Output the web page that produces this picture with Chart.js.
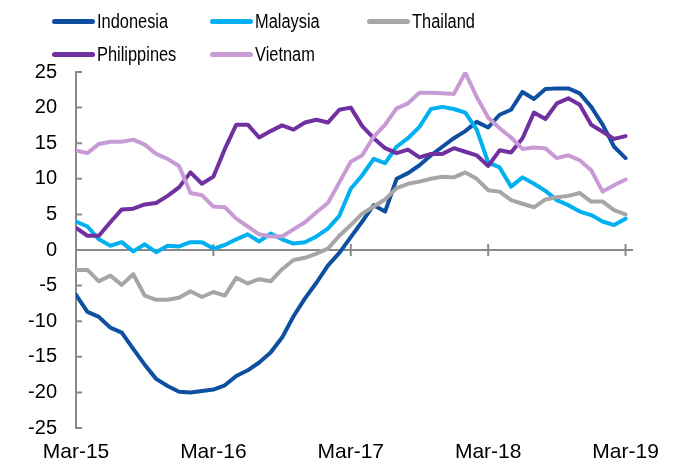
<!DOCTYPE html>
<html>
<head>
<meta charset="utf-8">
<script src="https://cdn.jsdelivr.net/npm/chart.js@4"></script>
<style>
  body { margin: 0; background: #fff; }
  #wrap { position: relative; width: 675px; height: 468px; }
  .item {
    position: absolute; height: 24px; display: flex; align-items: center;
    font: 20px "Liberation Sans", Arial, sans-serif;
    line-height: 24px; color: #000; white-space: nowrap;
  }
  .item .swatch { display: inline-block; width: 43px; height: 5px; border-radius: 3px; margin-right: 2px; }
  /* the original legend uses a narrow face */
  .item .nome { display: inline-block; transform: scaleX(0.82); transform-origin: left center; }
</style>
</head>
<body>
<div id="wrap">
  <canvas id="grafico" width="675" height="468"></canvas>
  <div id="legenda"></div>
</div>
<script>
const series = ['Indonesia', 'Malaysia', 'Thailand', 'Philippines', 'Vietnam'];
const colors = ['#0f4fa0', '#00b0f0', '#a6a6a6', '#7030a0', '#c89bd5'];

// month index from Mar-15, labelled once a year
const tickMonths = [0, 12, 24, 36, 48];
const tickLabels = ['Mar-15', 'Mar-16', 'Mar-17', 'Mar-18', 'Mar-19'];

const indonesia = [-6.3, -8.7, -9.4, -10.9, -11.6, -13.9, -16.1, -18.1, -19.1, -19.9, -20.0, -19.8, -19.6,
  -19.0, -17.7, -16.9, -15.8, -14.4, -12.3, -9.3, -6.8, -4.6, -2.2, -0.4,
  1.8, 4.0, 6.3, 5.4, 10.0, 10.8, 11.9, 13.3, 14.5, 15.7, 16.7, 18.0,
  17.2, 19.0, 19.7, 22.2, 21.2, 22.6, 22.7, 22.7, 22.0, 20.1, 17.6, 14.5, 12.9];
const malaysia = [4.0, 3.3, 1.5, 0.6, 1.1, -0.2, 0.8, -0.3, 0.6, 0.5, 1.1, 1.1, 0.2,
  0.7, 1.5, 2.2, 1.2, 2.3, 1.5, 0.9, 1.1, 1.9, 3.0, 4.8,
  8.6, 10.5, 12.8, 12.2, 14.5, 15.7, 17.3, 19.8, 20.1, 19.8, 19.3, 16.9,
  12.3, 11.6, 8.9, 10.2, 9.3, 8.3, 7.0, 6.3, 5.4, 4.9, 4.0, 3.5, 4.4];
const thailand = [-2.8, -2.8, -4.4, -3.6, -4.9, -3.4, -6.4, -7.0, -7.0, -6.7, -5.8, -6.6, -5.9,
  -6.4, -3.9, -4.7, -4.1, -4.4, -2.7, -1.4, -1.1, -0.5, 0.2, 2.0,
  3.5, 5.1, 6.1, 7.1, 8.7, 9.3, 9.6, 10.0, 10.3, 10.2, 10.9, 10.0,
  8.4, 8.2, 7.0, 6.5, 6.0, 7.1, 7.4, 7.6, 8.0, 6.8, 6.8, 5.6, 5.0];
const philippines = [3.1, 2.0, 2.0, 3.9, 5.7, 5.8, 6.4, 6.6, 7.6, 8.8, 10.9, 9.3, 10.3,
  14.2, 17.6, 17.6, 15.8, 16.7, 17.5, 16.9, 17.9, 18.3, 17.9, 19.7,
  20.0, 17.4, 15.7, 14.3, 13.6, 14.1, 13.0, 13.5, 13.5, 14.3, 13.8, 13.3,
  11.8, 14.0, 13.7, 15.7, 19.3, 18.4, 20.6, 21.3, 20.4, 17.6, 16.6, 15.6, 16.0];
const vietnam = [14.0, 13.6, 14.9, 15.2, 15.2, 15.5, 14.8, 13.5, 12.8, 11.8, 8.0, 7.7, 6.1,
  6.0, 4.4, 3.3, 2.2, 1.9, 1.9, 2.9, 3.9, 5.3, 6.6, 9.5,
  12.4, 13.3, 15.9, 17.6, 19.9, 20.6, 22.1, 22.1, 22.0, 21.9, 24.9, 21.5,
  18.6, 17.1, 15.8, 14.2, 14.4, 14.3, 12.9, 13.3, 12.6, 11.2, 8.2, 9.1, 9.9];

const valores = [indonesia, malaysia, thailand, philippines, vietnam];

// legend laid out in a grid like the original
const legendaPos = [[52, 9], [210, 9], [367, 9], [52, 42], [210, 42]];
const legenda = document.getElementById('legenda');
series.forEach((nome, i) => {
  const item = document.createElement('div');
  item.className = 'item';
  item.style.left = legendaPos[i][0] + 'px';
  item.style.top = legendaPos[i][1] + 'px';
  item.innerHTML = `<span class="swatch" style="background:${colors[i]}"></span><span class="nome">${nome}</span>`;
  legenda.appendChild(item);
});

const eixos = {
  id: 'eixos',
  beforeDatasetsDraw(chart) {
    const { ctx, chartArea, scales: { x, y } } = chart;
    const y0 = y.getPixelForValue(0);
    ctx.save();
    ctx.strokeStyle = '#898989';
    ctx.lineWidth = 2;
    ctx.beginPath();
    ctx.moveTo(chartArea.left, y.getPixelForValue(25) - 1);
    ctx.lineTo(chartArea.left, y.getPixelForValue(-25) + 1);
    y.ticks.forEach(t => {
      const py = y.getPixelForValue(t.value);
      ctx.moveTo(chartArea.left, py);
      ctx.lineTo(chartArea.left + 6, py);
    });
    ctx.moveTo(chartArea.left, y0);
    ctx.lineTo(chartArea.right, y0);
    x.ticks.forEach(t => {
      if (t.value === 0) return;
      const px = x.getPixelForValue(t.value);
      ctx.moveTo(px, y0 - 6);
      ctx.lineTo(px, y0 + 6);
    });
    ctx.stroke();
    ctx.restore();
  }
};

const fonte = { family: '"Liberation Sans", Arial, sans-serif', size: 20 };

new Chart(document.getElementById('grafico'), {
  type: 'line',
  data: {
    datasets: series.map((nome, i) => ({
      label: nome,
      data: valores[i].map((v, m) => ({ x: m, y: v })),
      borderColor: colors[i],
      backgroundColor: colors[i],
      borderWidth: 4,
      pointRadius: 0,
      tension: 0,
      borderJoinStyle: 'round',
      borderCapStyle: 'round',
      order: series.length - i
    }))
  },
  options: {
    responsive: false,
    animation: false,
    devicePixelRatio: 1,
    layout: { padding: { top: 72, right: 42, left: 0, bottom: 0 } },
    plugins: { legend: { display: false }, tooltip: { enabled: false } },
    scales: {
      x: {
        type: 'linear',
        min: 0,
        max: 48.65,
        grid: { display: false, drawTicks: false },
        border: { display: false },
        afterBuildTicks: (scale) => { scale.ticks = tickMonths.map(v => ({ value: v })); },
        afterFit: (scale) => { scale.height = 40; },
        ticks: {
          autoSkip: false,
          maxRotation: 0,
          padding: 12,
          color: '#000',
          font: { family: fonte.family, size: 21 },
          callback: (v) => tickLabels[tickMonths.indexOf(v)]
        }
      },
      y: {
        min: -25,
        max: 25,
        grid: { display: false, drawTicks: false },
        border: { display: false },
        afterFit: (scale) => { scale.width = 76; },
        ticks: { stepSize: 5, padding: 19, color: '#000', font: fonte }
      }
    }
  },
  plugins: [eixos]
});
</script>
</body>
</html>
